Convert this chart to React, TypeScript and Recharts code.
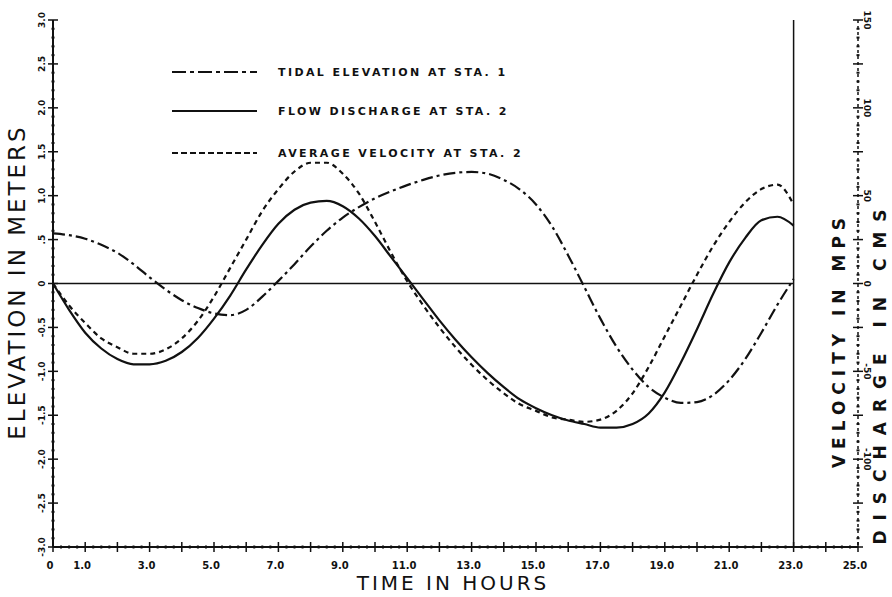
import React from 'react';
import { ComposedChart, Line, XAxis, YAxis, ReferenceLine, Legend } from 'recharts';

// ---------- data ----------
const hours = [0, 0.5, 1, 1.5, 2, 2.5, 3, 3.5, 4, 4.5, 5, 5.5, 6, 6.5, 7, 7.5, 8, 8.5, 9, 9.5, 10, 10.5, 11, 11.5, 12, 12.5, 13, 13.5, 14, 14.5, 15, 15.5, 16, 16.5, 17, 17.5, 18, 18.5, 19, 19.5, 20, 20.5, 21, 21.5, 22, 22.5, 23];

// tidal elevation at sta. 1 (m)
const tidalElevation = [0.57, 0.55, 0.51, 0.44, 0.35, 0.22, 0.07, -0.07, -0.19, -0.28, -0.34, -0.36, -0.3, -0.15, 0.03, 0.22, 0.42, 0.6, 0.75, 0.87, 0.97, 1.05, 1.12, 1.18, 1.23, 1.26, 1.27, 1.25, 1.18, 1.07, 0.9, 0.65, 0.32, -0.04, -0.4, -0.72, -0.98, -1.18, -1.3, -1.36, -1.35, -1.27, -1.1, -0.86, -0.56, -0.24, 0.05];

// flow discharge at sta. 2 (cms)
const flowDischarge = [0, -15, -28, -37, -43, -46, -46, -44, -39, -31, -20, -7, 8, 22, 34, 42, 46, 47, 44, 37, 27, 15, 3, -9, -21, -32, -42, -51, -59, -66, -71, -75, -78, -80, -82, -82, -80, -74, -62, -45, -26, -6, 12, 26, 36, 38, 33];

// average velocity at sta. 2 (mps)
const avgVelocity = [0, -0.1, -0.18, -0.25, -0.29, -0.32, -0.32, -0.3, -0.25, -0.17, -0.06, 0.07, 0.2, 0.33, 0.43, 0.51, 0.55, 0.55, 0.5, 0.41, 0.28, 0.14, 0.01, -0.1, -0.2, -0.29, -0.37, -0.44, -0.5, -0.55, -0.58, -0.61, -0.62, -0.63, -0.62, -0.58, -0.5, -0.38, -0.24, -0.1, 0.04, 0.17, 0.28, 0.37, 0.43, 0.45, 0.36];

// tick labels
const xLabelHours = [0, 1, 3, 5, 7, 9, 11, 13, 15, 17, 19, 21, 23, 25];
const xLabels = ['0', '1.0', '3.0', '5.0', '7.0', '9.0', '11.0', '13.0', '15.0', '17.0', '19.0', '21.0', '23.0', '25.0'];
const elevLabelValues = [3, 2.5, 2, 1.5, 1, 0.5, 0, -0.5, -1, -1.5, -2, -2.5, -3];
const elevLabels = ['3.0', '2.5', '2.0', '1.5', '1.0', '.5', '0', '-0.5', '-1.0', '-1.5', '-2.0', '-2.5', '-3.0'];
const velLabelValues = [0.8, 0.4, 0, -0.4, -0.8];
const velLabels = ['0.8', '0.4', '0', '-0.4', '-0.8'];
const disLabelValues = [150, 100, 50, 0, -50, -100];
const disLabels = ['150', '100', '50', '0', '-50', '-100'];

const legendNames = ['TIDAL ELEVATION AT STA. 1', 'FLOW DISCHARGE AT STA. 2', 'AVERAGE VELOCITY AT STA. 2'];

// ---------- layout ----------
const W = 892;
const H = 597;
const PL = 53;
const PR = 858;
const PT = 20;
const PB = 547;
const VEL_X = PL + (23 / 25) * (PR - PL);
const INK = '#111';
const TICK_FONT = 'DejaVu Sans, sans-serif';

const DASH_TIDAL = '12 4 3 4';
const DASH_VEL = '5 4';

const steps = (a: number, b: number, n: number) => {
  const out: number[] = [];
  for (let i = 0; i <= n; i++) out.push(Math.round((a + ((b - a) * i) / n) * 1000) / 1000);
  return out;
};
const xTicks = steps(0, 25, 100);
const leftTicks = steps(-3, 3, 60);
const velTicks = steps(-1.2, 1.2, 12);
const disTicks = steps(-150, 150, 60);

const isMult = (v: number, m: number) => Math.abs(v / m - Math.round(v / m)) < 1e-6;
const labelFor = (v: number, vals: number[], labs: string[]) => {
  const i = vals.findIndex((q) => Math.abs(q - v) < 1e-6);
  return i >= 0 ? labs[i] : null;
};

const data = hours.map((h, i) => ({
  h,
  tidal: tidalElevation[i],
  flow: flowDischarge[i],
  vel: avgVelocity[i],
}));

const XTick = (props: any) => {
  const { x, payload } = props;
  const v = payload.value;
  const major = isMult(v, 1);
  const lab = labelFor(v, xLabelHours, xLabels);
  return (
    <g>
      {major ? (
        <line x1={x} x2={x} y1={PB - 5} y2={PB + 5} stroke={INK} strokeWidth={1.5} />
      ) : (
        <line x1={x} x2={x} y1={PB - 1.5} y2={PB + 1.5} stroke={INK} strokeWidth={2} />
      )}
      {lab && (
        <text x={x - 3} y={PB + 22} textAnchor="middle" fontFamily={TICK_FONT} fontWeight="bold" fontSize={10} fill={INK}>
          {lab}
        </text>
      )}
    </g>
  );
};

const TopTick = (props: any) => {
  const { x, payload } = props;
  const v = payload.value;
  const major = isMult(v, 1);
  return major ? (
    <line x1={x} x2={x} y1={PT - 4} y2={PT + 4} stroke={INK} strokeWidth={1.5} />
  ) : (
    <line x1={x} x2={x} y1={PT - 1.5} y2={PT + 1.5} stroke={INK} strokeWidth={2} />
  );
};

const LeftTick = (props: any) => {
  const { y, payload } = props;
  const v = payload.value;
  const major = isMult(v, 0.5);
  const lab = labelFor(v, elevLabelValues, elevLabels);
  return (
    <g>
      {major ? (
        <line x1={PL - 5} x2={PL + 5} y1={y} y2={y} stroke={INK} strokeWidth={1.5} />
      ) : (
        <line x1={PL - 1.5} x2={PL + 1.5} y1={y} y2={y} stroke={INK} strokeWidth={2} />
      )}
      {lab && (
        <text transform={`translate(${PL - 8},${y}) rotate(-90)`} textAnchor="middle" fontFamily={TICK_FONT} fontWeight="bold" fontSize={9} fill={INK}>
          {lab}
        </text>
      )}
    </g>
  );
};

const VelTick = (props: any) => {
  const { y, payload } = props;
  const v = payload.value;
  const lab = labelFor(v, velLabelValues, velLabels);
  return (
    <g>
      <line x1={VEL_X - 4} x2={VEL_X + 4} y1={y} y2={y} stroke={INK} strokeWidth={1.5} />
      {lab && (
        <text transform={`translate(${VEL_X + 6},${y}) rotate(90)`} textAnchor="middle" fontFamily={TICK_FONT} fontWeight="bold" fontSize={9} fill={INK}>
          {lab}
        </text>
      )}
    </g>
  );
};

const DisTick = (props: any) => {
  const { y, payload } = props;
  const v = payload.value;
  const major = isMult(v, 25);
  const lab = labelFor(v, disLabelValues, disLabels);
  return (
    <g>
      {major ? (
        <line x1={PR - 5} x2={PR + 5} y1={y} y2={y} stroke={INK} strokeWidth={1.5} />
      ) : (
        <line x1={PR - 1.5} x2={PR + 1.5} y1={y} y2={y} stroke={INK} strokeWidth={2} />
      )}
      {lab && (
        <text transform={`translate(${PR + 6},${y}) rotate(90)`} textAnchor="middle" fontFamily={TICK_FONT} fontWeight="bold" fontSize={9} fill={INK}>
          {lab}
        </text>
      )}
    </g>
  );
};

const legendDashes = ['14 4 4 4', undefined, '6 3'];
const legendRowsY = [22, 61, 103];

const LegendContent = () => (
  <svg width={420} height={120} style={{ display: 'block' }}>
    {legendNames.map((n, i) => (
      <g key={n}>
        <line x1={12} x2={97} y1={legendRowsY[i]} y2={legendRowsY[i]} stroke={INK} strokeWidth={2.2} strokeDasharray={legendDashes[i]} />
        <text x={118} y={legendRowsY[i] + 4} fontFamily={TICK_FONT} fontWeight="bold" fontSize={11} letterSpacing={2.4} fill={INK}>
          {n}
        </text>
      </g>
    ))}
  </svg>
);

export default function App() {
  return (
    <div style={{ position: 'absolute', left: 0, top: 0, width: W, height: H, background: '#fff' }}>
      <ComposedChart width={W} height={H} data={data} margin={{ top: PT, right: 0, bottom: 0, left: 0 }}>
        <XAxis
          dataKey="h"
          type="number"
          domain={[0, 25]}
          ticks={xTicks}
          interval={0}
          tick={<XTick />}
          tickLine={false}
          axisLine={{ stroke: INK, strokeWidth: 2 }}
          height={H - PB}
        />
        <XAxis
          xAxisId="top"
          orientation="top"
          dataKey="h"
          type="number"
          domain={[0, 25]}
          ticks={xTicks}
          interval={0}
          tick={<TopTick />}
          tickLine={false}
          axisLine={{ stroke: INK, strokeWidth: 2 }}
          height={0}
        />
        <YAxis
          yAxisId="left"
          type="number"
          domain={[-3, 3]}
          ticks={leftTicks}
          interval={0}
          tick={<LeftTick />}
          tickLine={false}
          axisLine={{ stroke: INK, strokeWidth: 2 }}
          width={PL}
        />
        <YAxis
          yAxisId="vel"
          orientation="right"
          type="number"
          domain={[-1.2, 1.2]}
          ticks={velTicks}
          interval={0}
          tick={<VelTick />}
          tickLine={false}
          axisLine={false}
          width={0}
        />
        <YAxis
          yAxisId="dis"
          orientation="right"
          type="number"
          domain={[-150, 150]}
          ticks={disTicks}
          interval={0}
          tick={<DisTick />}
          tickLine={false}
          axisLine={{ stroke: INK, strokeWidth: 1.5, strokeDasharray: '3 3' }}
          width={W - PR}
        />
        <ReferenceLine yAxisId="left" segment={[{ x: 0, y: 0 }, { x: 23, y: 0 }]} stroke={INK} strokeWidth={1.5} />
        <ReferenceLine yAxisId="left" x={23} stroke={INK} strokeWidth={1.5} />
        <Legend
          layout="horizontal"
          verticalAlign="middle"
          align="center"
          content={<LegendContent />}
          wrapperStyle={{ left: 160, top: 50, width: 420, height: 120 }}
        />
        <Line yAxisId="left" type="monotone" dataKey="tidal" name={legendNames[0]} stroke={INK} strokeWidth={2.2} strokeDasharray={DASH_TIDAL} dot={false} isAnimationActive={false} />
        <Line yAxisId="dis" type="monotone" dataKey="flow" name={legendNames[1]} stroke={INK} strokeWidth={2.2} dot={false} isAnimationActive={false} />
        <Line yAxisId="vel" type="monotone" dataKey="vel" name={legendNames[2]} stroke={INK} strokeWidth={2.2} strokeDasharray={DASH_VEL} dot={false} isAnimationActive={false} />
      </ComposedChart>
      <svg width={W} height={H} style={{ position: 'absolute', left: 0, top: 0, pointerEvents: 'none' }}>
        <text transform="translate(25,282) rotate(-90)" textAnchor="middle" fontFamily="DejaVu Sans, sans-serif" fontSize={23} letterSpacing={3} fill={INK}>
          ELEVATION IN METERS
        </text>
        <text x={453} y={590} textAnchor="middle" fontFamily="DejaVu Sans, sans-serif" fontSize={20} letterSpacing={3} fill={INK}>
          TIME IN HOURS
        </text>
        <text transform="translate(845,340) rotate(-90)" textAnchor="middle" fontFamily="DejaVu Sans, sans-serif" fontWeight="bold" fontSize={17} letterSpacing={6} fill={INK}>
          VELOCITY IN MPS
        </text>
        <text transform="translate(886,372) rotate(-90)" textAnchor="middle" fontFamily="DejaVu Sans, sans-serif" fontWeight="bold" fontSize={17} letterSpacing={10} fill={INK}>
          DISCHARGE IN CMS
        </text>
      </svg>
    </div>
  );
}
